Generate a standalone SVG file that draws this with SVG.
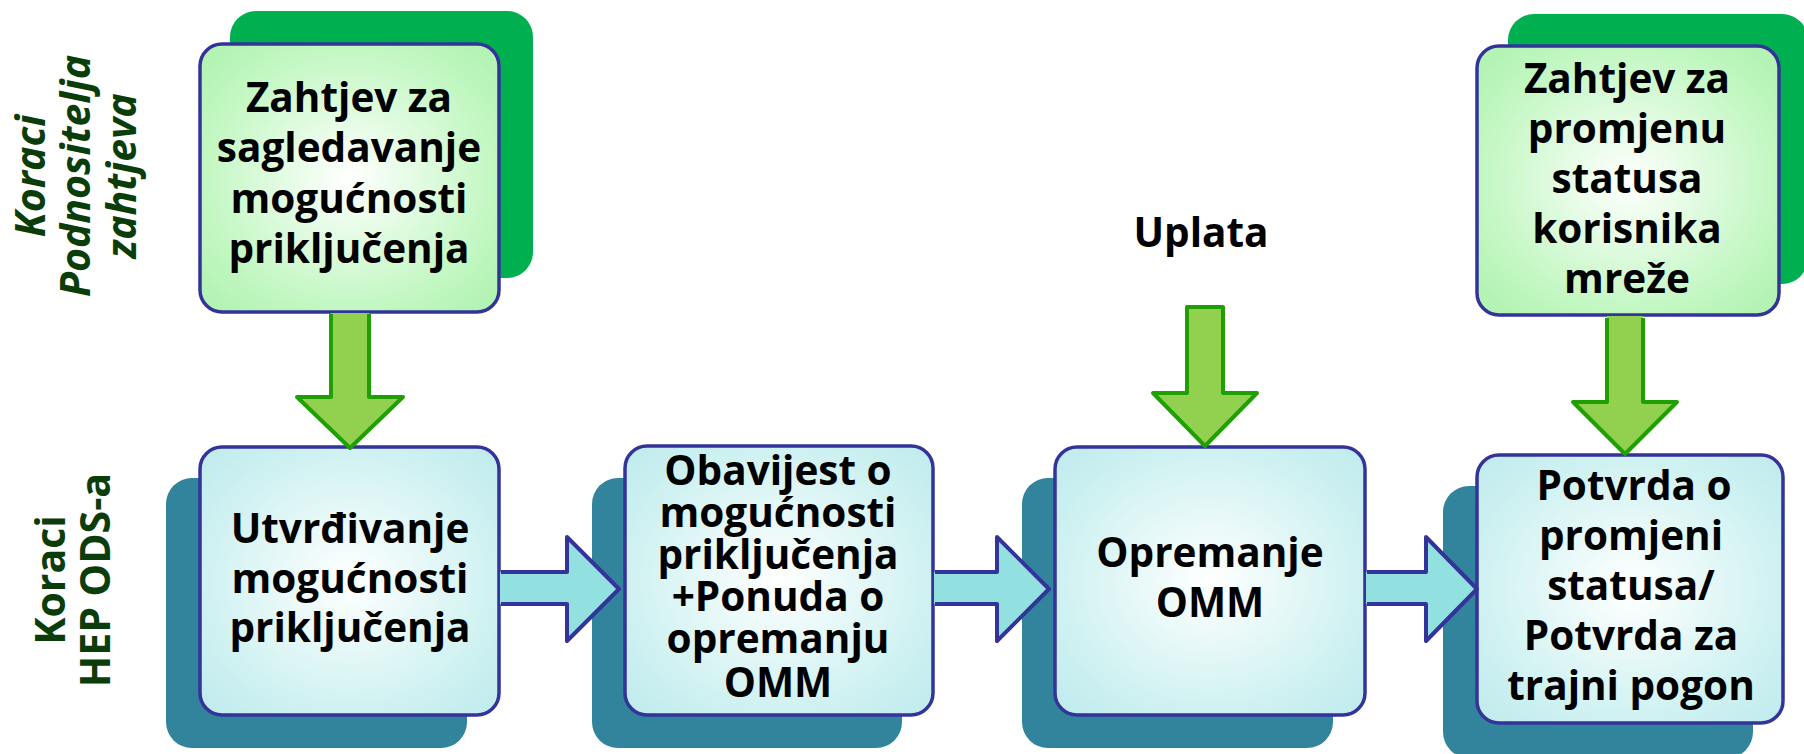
<svg xmlns="http://www.w3.org/2000/svg" width="1804" height="754" viewBox="0 0 1804 754">
<defs>
<radialGradient id="gGreen" cx="50%" cy="50%" r="65%">
<stop offset="0" stop-color="#ffffff"/>
<stop offset="0.75" stop-color="#c2f7c2"/>
<stop offset="1" stop-color="#b3f3b3"/>
</radialGradient>
<radialGradient id="gCyan" cx="50%" cy="50%" r="65%">
<stop offset="0" stop-color="#ffffff"/>
<stop offset="0.75" stop-color="#cff1f1"/>
<stop offset="1" stop-color="#c3ecee"/>
</radialGradient>
<style>
.front-g{fill:url(#gGreen);stroke:#333399;stroke-width:3.5}
.front-c{fill:url(#gCyan);stroke:#333399;stroke-width:3.5}
.back-g{fill:#00b050}
.back-t{fill:#31849b}
.t{font-family:"Open Sans","Noto Sans","Liberation Sans",sans-serif;font-weight:700;font-size:40.5px;fill:#000;text-anchor:middle}
.lab{font-family:"Open Sans","Noto Sans","Liberation Sans",sans-serif;font-weight:700;font-size:41px;fill:#0b3d0b;text-anchor:middle}
.it{font-style:italic}
.gf{fill:#92d050;stroke:none}
.gs{fill:none;stroke:#1fa000;stroke-width:4;stroke-linejoin:round}
.cf{fill:#93e0e0;stroke:none}
.cs{fill:none;stroke:#333399;stroke-width:4;stroke-linejoin:round}
</style>
</defs>
<rect width="1804" height="754" fill="#ffffff"/>

<g id="label-podnositelj">
<text class="lab it" transform="translate(45,176) rotate(-90)">Koraci</text>
<text class="lab it" transform="translate(90,176) rotate(-90)">Podnositelja</text>
<text class="lab it" transform="translate(136,176) rotate(-90)">zahtjeva</text>
</g>
<g id="label-hep">
<text class="lab" transform="translate(65,580) rotate(-90)">Koraci</text>
<text class="lab" transform="translate(110,580) rotate(-90)">HEP ODS-a</text>
</g>

<g id="node-zahtjev-sagledavanje">
<rect class="back-g" x="230" y="11" width="303" height="267" rx="26"/>
<rect class="front-g" x="200" y="44" width="299" height="268" rx="22"/>
<text class="t" x="349" y="112">Zahtjev za</text>
<text class="t" x="349" y="162">sagledavanje</text>
<text class="t" x="349" y="213">mogućnosti</text>
<text class="t" x="349" y="263">priključenja</text>
</g>

<g id="node-zahtjev-promjena">
<rect class="back-g" x="1508" y="14" width="300" height="270" rx="26"/>
<rect class="front-g" x="1477" y="46" width="302" height="269" rx="22"/>
<text class="t" x="1627" y="93">Zahtjev za</text>
<text class="t" x="1627" y="143">promjenu</text>
<text class="t" x="1627" y="193">statusa</text>
<text class="t" x="1627" y="243">korisnika</text>
<text class="t" x="1627" y="293">mreže</text>
</g>

<g id="node-uplata">
<text class="t" x="1201" y="247">Uplata</text>
</g>

<g id="node-utvrdivanje">
<rect class="back-t" x="166" y="478" width="301" height="270" rx="26"/>
<rect class="front-c" x="200" y="447" width="299" height="268" rx="22"/>
<text class="t" x="350" y="543">Utvrđivanje</text>
<text class="t" x="350" y="593">mogućnosti</text>
<text class="t" x="350" y="642">priključenja</text>
</g>

<g id="node-obavijest">
<rect class="back-t" x="592" y="478" width="310" height="270" rx="26"/>
<rect class="front-c" x="625" y="446" width="308" height="269" rx="22"/>
<text class="t" x="778" y="485">Obavijest o</text>
<text class="t" x="778" y="527">mogućnosti</text>
<text class="t" x="778" y="569">priključenja</text>
<text class="t" x="778" y="611">+Ponuda o</text>
<text class="t" x="778" y="653">opremanju</text>
<text class="t" x="778" y="697">OMM</text>
</g>

<g id="node-opremanje">
<rect class="back-t" x="1022" y="478" width="311" height="270" rx="26"/>
<rect class="front-c" x="1055" y="447" width="310" height="268" rx="22"/>
<text class="t" x="1210" y="567">Opremanje</text>
<text class="t" x="1210" y="617">OMM</text>
</g>

<g id="node-potvrda">
<rect class="back-t" x="1443" y="486" width="310" height="272" rx="26"/>
<rect class="front-c" x="1477" y="455" width="306" height="268" rx="22"/>
<text class="t" x="1634" y="500">Potvrda o</text>
<text class="t" x="1631" y="550">promjeni</text>
<text class="t" x="1631" y="600">statusa/</text>
<text class="t" x="1631" y="650">Potvrda za</text>
<text class="t" x="1631" y="700">trajni pogon</text>
</g>

<g id="connectors">
<path class="gf" d="M331,313 H369 V397 H403 L350,448 L297,397 H331 Z"/>
<path class="gs" d="M331,314 V397 H297 L350,448 L403,397 H369 V314"/>
<path class="gf" d="M1187,307 H1223 V393 H1257 L1205,446 L1153,393 H1187 Z"/>
<path class="gs" d="M1187,307 H1223 V393 H1257 L1205,446 L1153,393 H1187 Z"/>
<path class="gf" d="M1607,316 H1643 V402 H1677 L1625,454 L1573,402 H1607 Z"/>
<path class="gs" d="M1607,318 V402 H1573 L1625,454 L1677,402 H1643 V318"/>
<path class="cf" d="M500,572 H567 V537 L619,589 L567,641 V604 H500 Z"/>
<path class="cs" d="M501,572 H567 V537 L619,589 L567,641 V604 H501"/>
<path class="cf" d="M934,572 H997 V537 L1049,589 L997,641 V604 H934 Z"/>
<path class="cs" d="M935,572 H997 V537 L1049,589 L997,641 V604 H935"/>
<path class="cf" d="M1366,572 H1426 V537 L1477,589 L1426,641 V604 H1366 Z"/>
<path class="cs" d="M1367,572 H1426 V537 L1477,589 L1426,641 V604 H1367"/>
</g>
</svg>
